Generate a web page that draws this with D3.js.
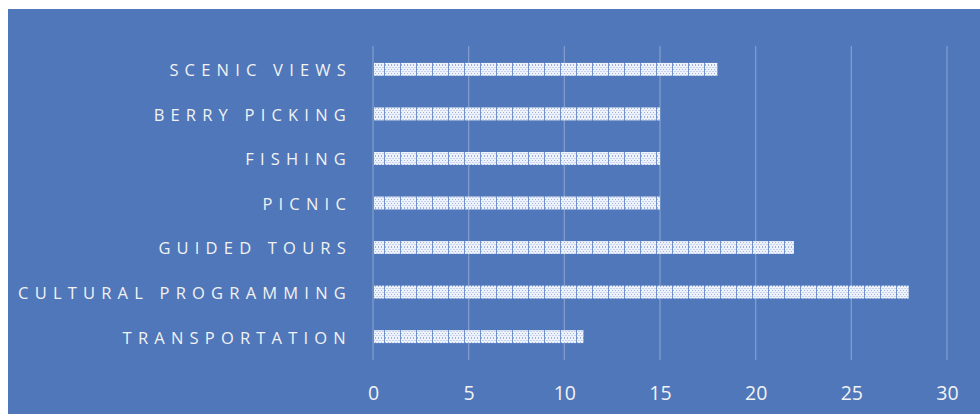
<!DOCTYPE html>
<html><head><meta charset="utf-8">
<script src="https://cdn.jsdelivr.net/npm/d3@7"></script>
<style>
html,body{margin:0;padding:0;background:#fff;}
svg{display:block;}
</style></head>
<body>
<svg id="chart" width="980" height="414"></svg>
<script>
const categories = ["SCENIC VIEWS","BERRY PICKING","FISHING","PICNIC","GUIDED TOURS","CULTURAL PROGRAMMING","TRANSPORTATION"];
const values = [18, 15, 15, 15, 22, 28, 11];
const tickValues = [0, 5, 10, 15, 20, 25, 30];

const svg = d3.select("#chart");
const W = 980, H = 414;
const bg = "#4f77ba";

svg.append("rect").attr("x", 8).attr("y", 9).attr("width", W - 8).attr("height", H - 9).attr("fill", bg);

// pattern for bars
const defs = svg.append("defs");
const pat = defs.append("pattern").attr("id", "tile").attr("patternUnits", "userSpaceOnUse")
  .attr("width", 16).attr("height", 13).attr("x", 369).attr("y", 0);
pat.append("rect").attr("width", 16).attr("height", 13).attr("fill", "#eef2fa");
const dots = pat.append("g").attr("fill", "#9fb5de");
for (let i = 0; i < 15; i += 3) for (let j = 0; j < 13; j += 2) {
  dots.append("rect").attr("x", i + (j % 4 === 0 ? 0 : 1.5)).attr("y", j).attr("width", 1).attr("height", 1);
}
pat.append("rect").attr("x", 15).attr("width", 1).attr("height", 13).attr("fill", "#7391c9");

const x = d3.scaleLinear().domain([0, 30]).range([373, 947]);
const y = d3.scaleBand().domain(categories).range([46, 360]).paddingInner(0.71).paddingOuter(0.38);

// gridlines
svg.append("g").selectAll("line").data(tickValues).join("line")
  .attr("x1", d => x(d)).attr("x2", d => x(d)).attr("y1", 46).attr("y2", 360)
  .attr("stroke", "#ffffff").attr("stroke-opacity", 0.28).attr("stroke-width", 1.3);

// bars
svg.append("g").selectAll("rect").data(values).join("rect")
  .attr("x", x(0) + 1)
  .attr("y", (d, i) => y(categories[i]))
  .attr("width", d => x(d) - x(0) - 1)
  .attr("height", y.bandwidth())
  .attr("fill", "url(#tile)");

// category labels
svg.append("g").selectAll("text").data(categories).join("text")
  .attr("x", 352)
  .attr("y", d => y(d) + y.bandwidth() / 2 + 1)
  .attr("dy", "0.36em")
  .attr("text-anchor", "end")
  .attr("fill", "#f2f2f2")
  .style("font-family", "'Open Sans', sans-serif")
  .style("font-size", "16.5px")
  .style("letter-spacing", "6.2px")
  .text(d => d);

// x axis tick labels
const xAxis = d3.axisBottom(x).tickValues(tickValues).tickSize(0).tickPadding(0);
const ax = svg.append("g").attr("transform", "translate(0,386)").call(xAxis);
ax.select(".domain").remove();
ax.selectAll("text").attr("fill", "#f2f2f2")
  .style("font-family", "'Open Sans', sans-serif").style("font-size", "19.5px");
</script>
</body></html>
